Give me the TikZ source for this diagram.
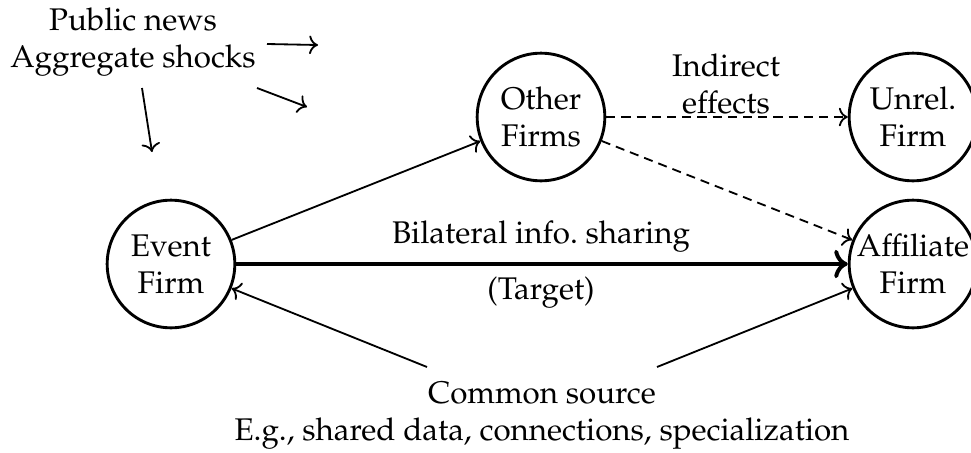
\documentclass[tikz,border=0pt]{standalone}
\usepackage[T1]{fontenc}
\usepackage{mathpazo}
\usetikzlibrary{arrows.meta}
\begin{document}
\begin{tikzpicture}[x=0.329pt,y=-0.329pt,
  every node/.style={font=\fontsize{10.3}{12.2}\selectfont},
  firm/.style={circle,draw,line width=0.95pt,inner sep=0pt,minimum size=42pt,align=center},
  link/.style={semithick,->},
  strong/.style={line width=1.3pt,->},
  indirect/.style={semithick,->,dash pattern=on 3pt off 2pt},
  lbl/.style={align=center,inner sep=0pt}]
\useasboundingbox (0,0) rectangle (971,452);

% firms
\node[firm] (ev) at (171,264) {Event\\Firm};
\node[firm] (ot) at (541,117) {Other\\Firms};
\node[firm] (un) at (913,117) {Unrel.\\Firm};
\node[firm] (af) at (913,264) {Affiliate\\Firm};

% public information
\node[lbl] (pub) at (133,42) {Public news\\Aggregate shocks};
\coordinate (p1s) at (267,44);  \coordinate (p1e) at (318,45);
\coordinate (p2s) at (257,88);  \coordinate (p2e) at (307,107);
\coordinate (p3s) at (142,88);  \coordinate (p3e) at (152,152);
\draw[link] (p1s) -- (p1e);
\draw[link] (p2s) -- (p2e);
\draw[link] (p3s) -- (p3e);

% direct and indirect channels
\draw[link] (ev) -- (ot);
\draw[strong] (ev) -- (af);
\node[lbl] (bil) at (541,237) {Bilateral info.\ sharing};
\node[lbl] (tgt) at (541,293) {(Target)};
\draw[indirect] (ot) -- (un);
\node[lbl] (ind) at (726,84) {Indirect\\effects};
\draw[indirect] (ot) -- (af);

% common source
\node[lbl] (cs) at (542,416) {Common source\\E.g., shared data, connections, specialization};
\coordinate (csl) at (427,367);
\coordinate (csr) at (657,367);
\draw[link] (csl) -- (ev);
\draw[link] (csr) -- (af);
\end{tikzpicture}
\end{document}
